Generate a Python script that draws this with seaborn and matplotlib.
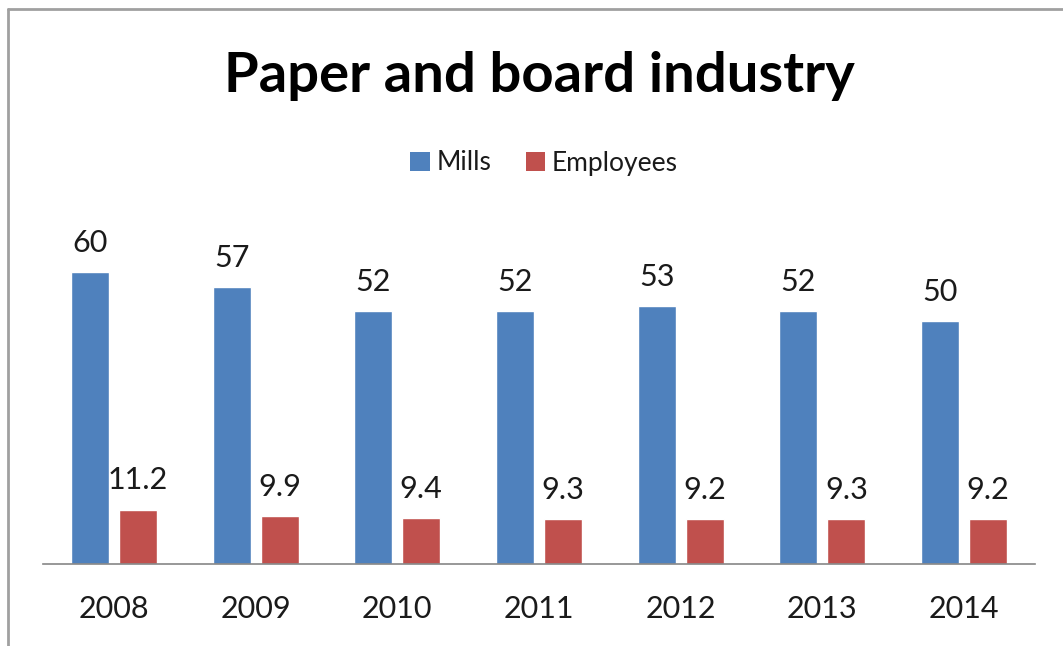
import matplotlib
matplotlib.use("Agg")
import matplotlib.pyplot as plt
from matplotlib.lines import Line2D
from matplotlib.patches import Patch
import pandas as pd
import seaborn as sns

years = ["2008", "2009", "2010", "2011", "2012", "2013", "2014"]
mills = [60, 57, 52, 52, 53, 52, 50]
employees = [11.2, 9.9, 9.4, 9.3, 9.2, 9.3, 9.2]
series_names = ["Mills", "Employees"]
colors = ["#4F81BD", "#C0504D"]

df = pd.DataFrame({
    "Year": years * 2,
    "Value": mills + employees,
    "Series": [series_names[0]] * len(years) + [series_names[1]] * len(years),
})

sns.set_theme(style="white")
plt.rcParams["font.family"] = ["Lato", "DejaVu Sans"]

W, H = 1063, 646
fig = plt.figure(figsize=(W / 100, H / 100), dpi=100)
fig.patch.set_facecolor("white")

# axes box in pixel terms: x 43..1035, baseline at y=564, 70 units tall
left, right = 43 / W, 1035 / W
bottom = 1 - 564 / H
height = 70 * 4.86 / H
ax = fig.add_axes([left, bottom, right - left, height])

sns.barplot(data=df, x="Year", y="Value", hue="Series", palette=colors,
            width=0.676, gap=0.207, saturation=1, ax=ax, legend=False,
            errorbar=None)

ax.set_xlim(-0.5, len(years) - 0.5)
ax.set_ylim(0, 70)
ax.set_xlabel("")
ax.set_ylabel("")
ax.set_yticks([])
for s in ["left", "right", "top"]:
    ax.spines[s].set_visible(False)
ax.spines["bottom"].set_color("#868686")
ax.spines["bottom"].set_linewidth(1.2)
ax.tick_params(axis="x", length=0, pad=22, labelsize=22, labelcolor="#1a1a1a")

for cont, vals in zip(ax.containers, [mills, employees]):
    labels = [f"{v:g}" for v in vals]
    ax.bar_label(cont, labels=labels, padding=11, fontsize=22, color="#1a1a1a")

fig.text(539 / W, 1 - 76 / H, "Paper and board industry", ha="center", va="center",
         fontsize=40.5, fontweight="bold", color="black")

handles = [Patch(facecolor=c, edgecolor="none") for c in colors]
fig.legend(handles, series_names, loc="center", bbox_to_anchor=(544 / W, 1 - 163 / H),
           ncol=2, frameon=False, fontsize=19, handlelength=0.75, handleheight=0.75,
           handletextpad=0.25, columnspacing=1.3, labelcolor="#1a1a1a")

# chart frame (left and top edges)
fig.add_artist(Line2D([8 / W, 8 / W], [0, 1 - 9 / H], transform=fig.transFigure,
                      color="#a0a0a0", lw=2))
fig.add_artist(Line2D([8 / W, 1], [1 - 9 / H, 1 - 9 / H], transform=fig.transFigure,
                      color="#a0a0a0", lw=2))

fig.savefig("out.png", dpi=100)
